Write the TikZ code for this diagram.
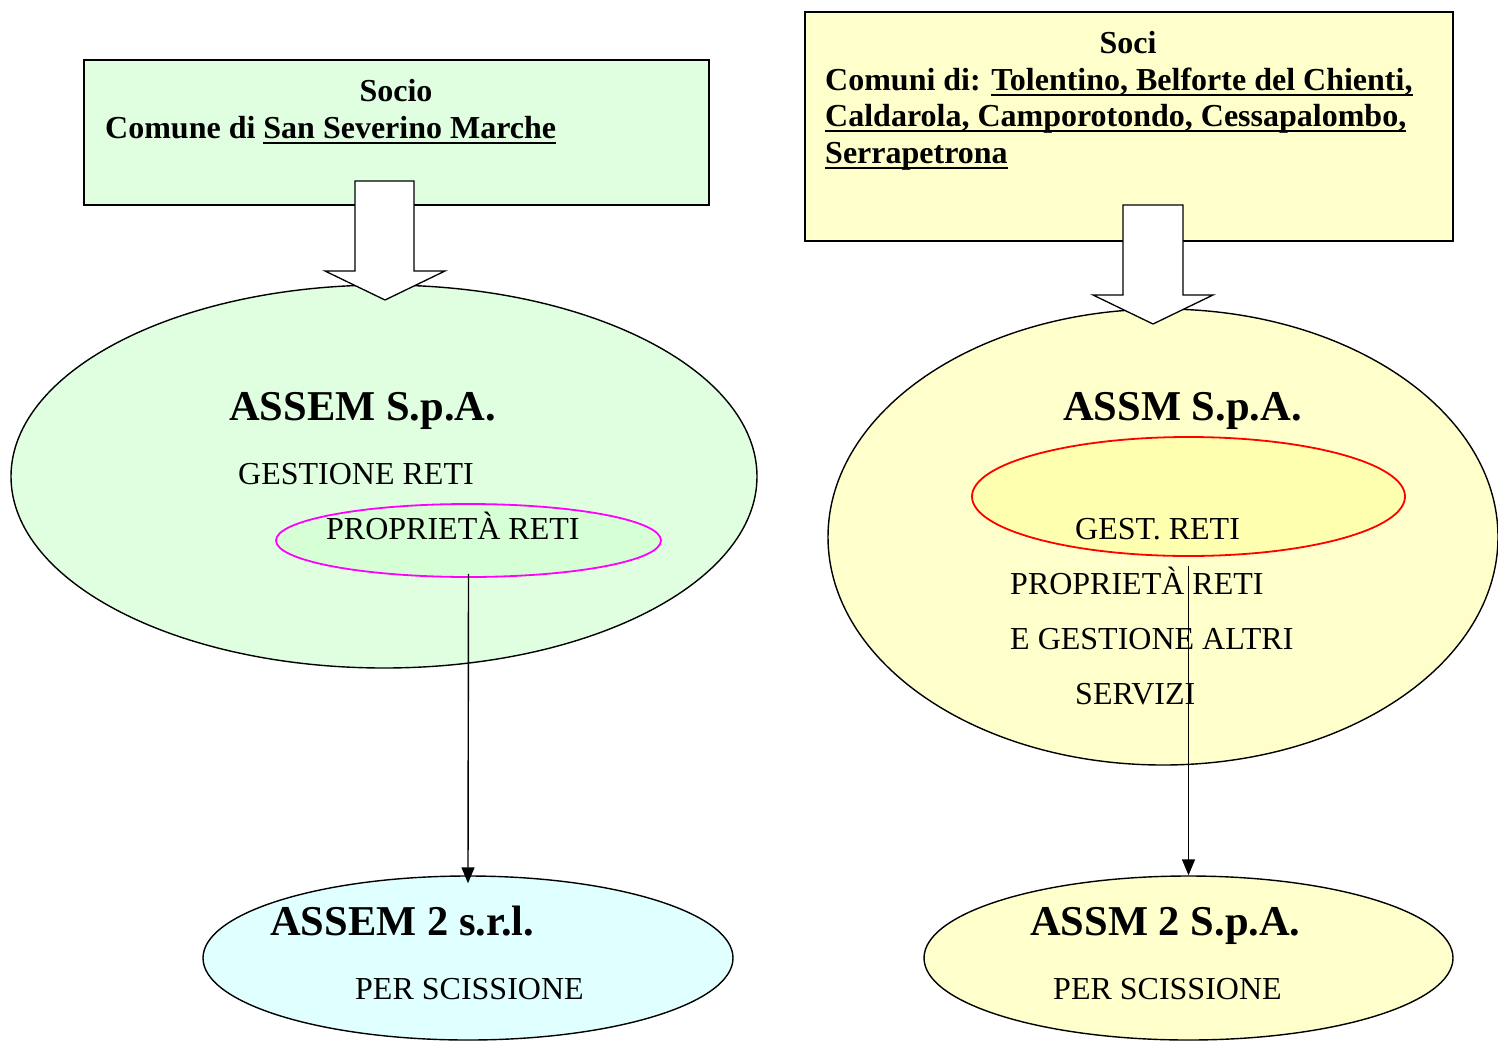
\documentclass[tikz,border=0pt]{standalone}
\usepackage{fontspec}
\setmainfont{Liberation Serif}
\newcommand{\myuline}[1]{\setbox0\hbox{#1}\rlap{\rule[-6pt]{\wd0}{2.4pt}}\box0}
\usetikzlibrary{shapes.geometric,arrows.meta}
\definecolor{boxgreen}{HTML}{E0FFE0}
\definecolor{innergreen}{HTML}{D6FFD6}
\definecolor{boxyellow}{HTML}{FFFFCC}
\definecolor{inneryellow}{HTML}{FFFFB0}
\definecolor{lightcyan}{HTML}{E0FFFF}
\definecolor{magentaline}{HTML}{FF00FF}
\tikzset{
  socbox/.style={draw=black, line width=1.3pt, inner sep=0pt},
  bigell/.style={ellipse, draw=black, line width=1.4pt, inner sep=0pt},
  inell/.style={ellipse, line width=1.8pt, inner sep=0pt},
  blockarrow/.style={draw=black, fill=white, line width=1.3pt, line join=miter},
  txt/.style={inner sep=0pt, anchor=base west, font=\fontsize{32}{38}\selectfont},
  btxt/.style={inner sep=0pt, anchor=base west, font=\fontsize{32}{38}\selectfont\bfseries},
  bigtxt/.style={inner sep=0pt, anchor=base west, font=\fontsize{42.5}{50}\selectfont\bfseries},
  link/.style={draw=black, line width=1.4pt, -{Triangle[length=16pt,width=13pt]}}
}
\begin{document}
\begin{tikzpicture}[x=1pt,y=-1pt]
\useasboundingbox (0,0) rectangle (1498,1041);
\clip (0,0) rectangle (1498,1041);
% shareholder boxes
\node[socbox, fill=boxgreen, minimum width=625pt, minimum height=145pt] (boxL) at (396.5,132.5) {};
\node[socbox, fill=boxyellow, minimum width=648pt, minimum height=229pt] (boxR) at (1129,126.5) {};
% large ellipses
\node[bigell, fill=boxgreen, minimum width=746pt, minimum height=383pt] (assem) at (384,476.5) {};
\node[bigell, fill=boxyellow, minimum width=670pt, minimum height=456pt] (assm) at (1163,537) {};
% bottom ellipses
\node[bigell, fill=lightcyan, minimum width=530pt, minimum height=164pt] (assemtwo) at (468,958) {};
\node[bigell, fill=boxyellow, minimum width=529pt, minimum height=164pt] (assmtwo) at (1188.5,958) {};
% block arrows
\draw[blockarrow] (355,181) -- (414,181) -- (414,271) -- (445,271) -- (385,300) -- (325,271) -- (355,271) -- cycle;
\draw[blockarrow] (1123,205) -- (1183,205) -- (1183,295) -- (1213,295) -- (1153,324) -- (1093,295) -- (1123,295) -- cycle;
% inner ellipses
\node[inell, draw=magentaline, fill=innergreen, minimum width=385pt, minimum height=73pt] (propL) at (468.5,540.5) {};
\node[inell, draw=red, fill=inneryellow, minimum width=433pt, minimum height=119pt] (gestR) at (1188.5,496.5) {};
% box texts
\node[btxt, anchor=base] (socio) at (396,101) {Socio};
\node[btxt] (comune) at (105,138) {Comune di \myuline{San Severino Marche}};
\node[btxt, anchor=base] (soci) at (1128,53) {Soci};
\node[btxt] (comuni1) at (825,90) {Comuni di: \myuline{Tolentino, Belforte del Chienti,}};
\node[btxt] (comuni2) at (825,126) {\myuline{Caldarola, Camporotondo, Cessapalombo,}};
\node[btxt] (comuni3) at (825,163) {\myuline{Serrapetrona}};
% left company texts
\node[bigtxt] (tassem) at (229,420) {ASSEM S.p.A.};
\node[txt] (tgestL) at (238,484) {GESTIONE RETI};
\node[txt] (tpropL) at (326,539) {PROPRIETÀ RETI};
% right company texts
\node[bigtxt] (tassm) at (1063,420) {ASSM S.p.A.};
\node[txt] (tgestR) at (1075,539) {GEST. RETI};
\node[txt] (tpropR) at (1010,594) {PROPRIETÀ RETI};
\node[txt] (taltri) at (1010,649) {E GESTIONE ALTRI};
\node[txt] (tserv) at (1075,704) {SERVIZI};
% bottom texts
\node[bigtxt] (tassemtwo) at (270,935) {ASSEM 2 s.r.l.};
\node[txt] (tscisL) at (355,999) {PER SCISSIONE};
\node[bigtxt] (tassmtwo) at (1030,935) {ASSM 2 S.p.A.};
\node[txt] (tscisR) at (1053,999) {PER SCISSIONE};
% connectors
\draw[link, shorten <=-4pt, shorten >=-8pt] (propL.south) -- (assemtwo.north);
\draw[link, shorten <=9pt] (gestR.south) -- (assmtwo.north);
\end{tikzpicture}
\end{document}
